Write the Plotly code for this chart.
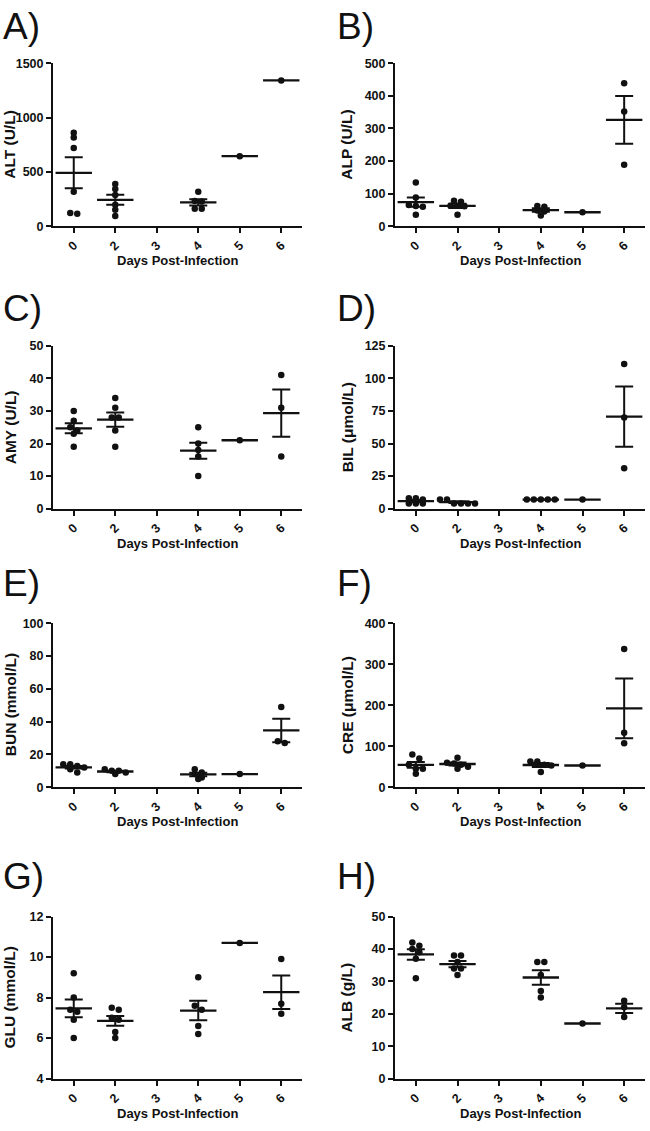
import plotly.graph_objects as go
import numpy as np

# ---------------- data ----------------
days = ['0', '2', '3', '4', '5', '6']

ALT = [[860, 818, 721, 318, 121, 115], [388, 342, 288, 197, 152, 94], [],
       [318, 233, 227, 160, 160], [645], [1342]]
ALP = [[134, 88, 65, 62, 60, 35], [78, 75, 63, 63, 61, 35], [],
       [62, 60, 48, 45, 33], [43], [439, 352, 189]]
AMY = [[30, 27, 25, 24, 23, 19], [34, 31, 28, 28, 24, 19], [],
       [25, 20, 18, 16, 10], [21], [41, 31, 16]]
BIL = [[8, 8, 7, 4, 4, 4], [7, 7, 4, 4, 4, 4], [],
       [7, 7, 7, 7, 7], [7], [111, 70, 31]]
BUN = [[14, 14, 13, 12, 11, 9], [11, 10, 10, 9, 8], [],
       [11, 9, 8, 6, 5], [8], [49, 28, 27]]
CRE = [[80, 70, 55, 45, 45, 33], [72, 60, 58, 55, 50, 45], [],
       [63, 63, 55, 53, 37], [53], [337, 133, 107]]
GLU = [[9.2, 8.0, 7.4, 7.3, 6.9, 6.0], [7.5, 7.4, 7.0, 6.9, 6.3, 6.0], [],
       [9.0, 7.6, 7.4, 6.6, 6.2], [10.7], [9.9, 7.7, 7.2]]
ALB = [[42, 41, 40, 39, 37, 31], [38, 38, 36, 34, 34, 32], [],
       [36, 36, 32, 27, 25], [17], [24, 22, 19]]

panel_letters = ['A)', 'B)', 'C)', 'D)', 'E)', 'F)', 'G)', 'H)']
panel_data = [ALT, ALP, AMY, BIL, BUN, CRE, GLU, ALB]
y_titles = ['ALT (U/L)', 'ALP (U/L)', 'AMY (U/L)', 'BIL (μmol/L)',
            'BUN (mmol/L)', 'CRE (μmol/L)', 'GLU (mmol/L)', 'ALB (g/L)']
y_ranges = [(0, 1500), (0, 500), (0, 50), (0, 125), (0, 100), (0, 400), (4, 12), (0, 50)]
y_dticks = [500, 100, 10, 25, 20, 100, 2, 10]
x_title = 'Days Post-Infection'

# ---------------- layout geometry (px) ----------------
W, H = 650, 1131
col_px = [(53, 302), (395, 645)]
row_px = [(57, 222), (343, 508), (624, 790), (921, 1085)]

FONT = 'Liberation Sans, Arial, sans-serif'
BLACK = '#111111'


def px_x(p):
    return p / W


def px_y(p):
    return 1 - p / H


def swarm(vals, ppu_y, ppu_x, thr=4.5, spacing=7.0):
    """Group points into rows by value and spread each row symmetrically."""
    s = sorted(vals, reverse=True)
    rows = []
    for v in s:
        if rows and (rows[-1][0] - v) * ppu_y < thr:
            rows[-1].append(v)
        else:
            rows.append([v])
    xs, ys = [], []
    for r in rows:
        n = len(r)
        for i, v in enumerate(r):
            xs.append((i - (n - 1) / 2) * spacing / ppu_x)
            ys.append(v)
    return xs, ys


fig = go.Figure()
annotations = []

for k in range(8):
    col = k % 2
    row = k // 2
    x0, x1 = col_px[col]
    y0, y1 = row_px[row]
    ax = '' if k == 0 else str(k + 1)
    xa, ya = 'x' + ax, 'y' + ax
    ymin, ymax = y_ranges[k]
    ppu_y = (y1 - y0) / (ymax - ymin)
    ppu_x = (x1 - x0) / len(days)

    for di, vals in enumerate(panel_data[k]):
        if not vals:
            continue
        offs, ys = swarm(vals, ppu_y, ppu_x)
        fig.add_trace(go.Scatter(
            x=[di + o for o in offs], y=ys, mode='markers', xaxis=xa, yaxis=ya,
            marker=dict(size=6.5, color=BLACK), showlegend=False, hoverinfo='y'))
        arr = np.array(vals, dtype=float)
        mean = arr.mean()
        err = dict(visible=False)
        if len(arr) > 1:
            sem = arr.std(ddof=1) / np.sqrt(len(arr))
            err = dict(type='data', array=[sem], visible=True, thickness=2,
                       width=9, color=BLACK)
        fig.add_trace(go.Scatter(
            x=[di], y=[mean], mode='markers', xaxis=xa, yaxis=ya,
            marker=dict(symbol='line-ew', size=26, color=BLACK,
                        line=dict(width=2.3, color=BLACK)),
            error_y=err, showlegend=False, hoverinfo='y'))

    fig.layout['xaxis' + ax] = dict(
        domain=[px_x(x0), px_x(x1)], anchor=ya, range=[-0.5, len(days) - 0.5],
        tickmode='array', tickvals=list(range(len(days))), ticktext=days,
        tickangle=-45, showline=True, linewidth=2, linecolor=BLACK,
        ticks='outside', ticklen=5, tickwidth=1.8, tickcolor=BLACK,
        showgrid=False, zeroline=False, fixedrange=True,
        tickfont=dict(family=FONT, size=12.5, color=BLACK, weight='bold'))
    fig.layout['yaxis' + ax] = dict(
        domain=[px_y(y1), px_y(y0)], anchor=xa, range=[ymin, ymax],
        tickmode='linear', tick0=ymin, dtick=y_dticks[k],
        showline=True, linewidth=2, linecolor=BLACK,
        ticks='outside', ticklen=5, tickwidth=1.8, tickcolor=BLACK,
        showgrid=False, zeroline=False, fixedrange=True,
        tickfont=dict(family=FONT, size=12.5, color=BLACK, weight='bold'))

    # panel letter
    lx = 1 if col == 0 else 335
    ly_mid = [20, 305, 584, 880][row]
    annotations.append(dict(
        text=panel_letters[k], xref='paper', yref='paper',
        x=px_x(lx), y=px_y(ly_mid), xanchor='left', yanchor='middle',
        showarrow=False, font=dict(family=FONT, size=37, color=BLACK)))
    # y title
    tx = 10 if col == 0 else 347
    annotations.append(dict(
        text=y_titles[k], xref='paper', yref='paper',
        x=px_x(tx), y=px_y((y0 + y1) / 2), xanchor='center', yanchor='middle',
        textangle=-90, showarrow=False,
        font=dict(family=FONT, size=15.5, color=BLACK, weight='bold')))
    # x title
    annotations.append(dict(
        text=x_title, xref='paper', yref='paper',
        x=px_x((x0 + x1) / 2), y=px_y(y1 + 35), xanchor='center', yanchor='middle',
        showarrow=False,
        font=dict(family=FONT, size=13, color=BLACK, weight='bold')))

fig.update_layout(
    width=W, height=H, margin=dict(l=0, r=0, t=0, b=0),
    paper_bgcolor='white', plot_bgcolor='white',
    annotations=annotations, showlegend=False,
    font=dict(family=FONT, color=BLACK))

fig.write_html('out.html', config={'displayModeBar': False},
               post_script="document.body.style.margin='0';"
                           "document.body.style.overflow='hidden';")
